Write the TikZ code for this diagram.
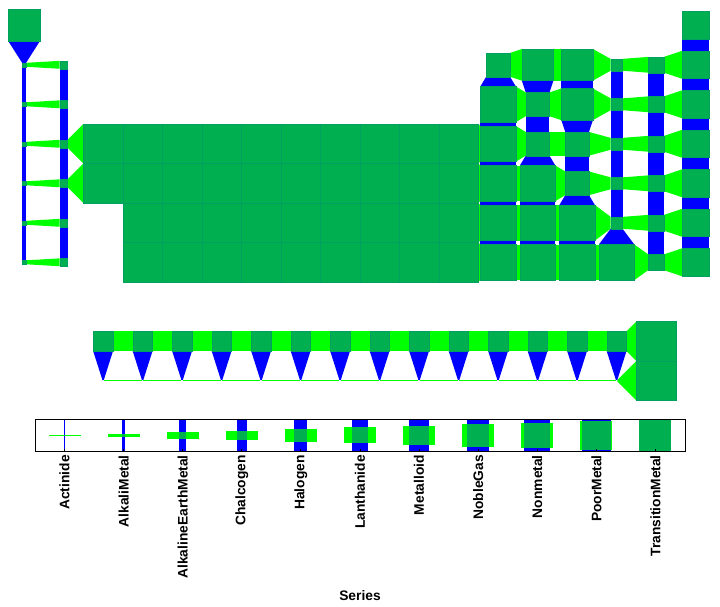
\documentclass[tikz,border=0pt]{standalone}
\usepackage{fontspec}
\setmainfont{Liberation Sans}
\definecolor{dkg}{RGB}{0,176,80}
\definecolor{lgr}{RGB}{0,255,0}
\definecolor{blu}{RGB}{0,0,255}
\definecolor{edge}{RGB}{0,160,96}
\begin{document}
\begin{tikzpicture}[x=1pt,y=-1pt,
  lab/.style={font=\fontsize{13.8}{15}\selectfont\bfseries, inner sep=0pt},
  hbar/.style={fill=lgr},
  vbar/.style={fill=blu},
  core/.style={fill=dkg, draw=edge, line width=0.3pt}]
\useasboundingbox (0,0) rectangle (720,606);
\def\T{{8,-1,-1,-1,-1,-1,-1,-1,-1,-1,-1,-1,-1,-1,-1,-1,-1,7,%
1,2,-1,-1,-1,-1,-1,-1,-1,-1,-1,-1,6,8,8,3,4,7,%
1,2,-1,-1,-1,-1,-1,-1,-1,-1,-1,-1,9,6,8,3,4,7,%
1,2,10,10,10,10,10,10,10,10,10,10,9,6,6,3,4,7,%
1,2,10,10,10,10,10,10,10,10,10,10,9,9,6,3,4,7,%
1,2,-1,10,10,10,10,10,10,10,10,10,9,9,9,3,4,7,%
1,2,-1,10,10,10,10,10,10,10,10,10,9,9,9,9,4,7,%
-1,-1,-1,-1,-1,-1,-1,-1,-1,-1,-1,-1,-1,-1,-1,-1,-1,-1,%
-1,-1,5,5,5,5,5,5,5,5,5,5,5,5,5,5,10,-1,%
-1,-1,0,0,0,0,0,0,0,0,0,0,0,0,0,0,10,-1}}%
% connectors
\foreach \p in {1,...,10}{
 \foreach \g in {1,...,18}{
  \pgfmathtruncatemacro\idx{(\p-1)*18+\g-1}
  \pgfmathtruncatemacro\va{\T[\idx]}
  \ifnum\va>-1\relax
    \pgfmathsetmacro\sa{max(\va*3.95,1.3)/2}
    \pgfmathsetmacro\xa{24.1+(\g-1)*39.5}
    \pgfmathsetmacro\ya{25.3+(\p-1)*39.5}
    \ifnum\g<18\relax
      \pgfmathtruncatemacro\vb{\T[\idx+1]}
      \ifnum\vb>-1\relax
        \pgfmathsetmacro\sb{max(\vb*3.95,1.3)/2}
        \fill[hbar] (\xa+\sa,\ya-\sa) -- (\xa+39.5-\sb,\ya-\sb) -- (\xa+39.5-\sb,\ya+\sb) -- (\xa+\sa,\ya+\sa) -- cycle;
      \fi
    \fi
    \ifnum\p<10\relax
      \pgfmathtruncatemacro\vc{\T[\idx+18]}
      \ifnum\vc>-1\relax
        \pgfmathsetmacro\sc{max(\vc*3.95,1.3)/2}
        \fill[vbar] (\xa-\sa,\ya+\sa) -- (\xa+\sa,\ya+\sa) -- (\xa+\sc,\ya+39.5-\sc) -- (\xa-\sc,\ya+39.5-\sc) -- cycle;
      \fi
    \fi
  \fi
 }}
% cores
\foreach \p in {1,...,10}{
 \foreach \g in {1,...,18}{
  \pgfmathtruncatemacro\idx{(\p-1)*18+\g-1}
  \pgfmathtruncatemacro\va{\T[\idx]}
  \ifnum\va>0\relax
    \pgfmathsetmacro\sa{\va*3.95/2}
    \pgfmathsetmacro\xa{24.1+(\g-1)*39.5}
    \pgfmathsetmacro\ya{25.3+(\p-1)*39.5}
    \path[core] (\xa-\sa,\ya-\sa) rectangle (\xa+\sa,\ya+\sa);
  \fi
 }}
% legend
\foreach \i/\nm in {0/Actinide,1/AlkaliMetal,2/AlkalineEarthMetal,3/Chalcogen,4/Halogen,5/Lanthanide,6/Metalloid,7/NobleGas,8/Nonmetal,9/PoorMetal,10/TransitionMetal}{
  \pgfmathsetmacro\cx{64.5+59.09*\i}
  \pgfmathsetmacro\h{max(\i*1.6,0.6)}
  \fill[vbar] (\cx-\h,419.3) rectangle (\cx+\h,451.3);
  \fill[hbar] (\cx-16,435.3-\h) rectangle (\cx+16,435.3+\h);
  \fill[dkg] (\cx-\h,435.3-\h) rectangle (\cx+\h,435.3+\h);
  \draw[line width=0.8pt] (\cx,451.3) -- (\cx,449.3);
  \node[lab,rotate=90,anchor=east] (l\i) at (\cx,455) {\nm};
}
\draw[line width=1pt] (35,419.3) rectangle (685,451.3);
\node[lab,anchor=base] (series) at (360,600) {Series};
\end{tikzpicture}
\end{document}
